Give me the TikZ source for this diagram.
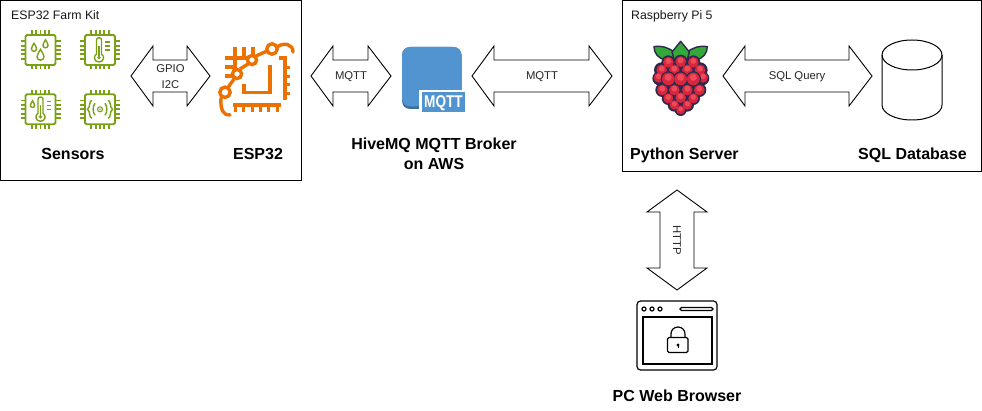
\documentclass[tikz,border=0pt]{standalone}
\usepackage{fontspec}
\setmainfont{Liberation Sans}
\usetikzlibrary{calc}
\definecolor{chipgreen}{HTML}{7AA116}
\definecolor{esporange}{HTML}{ED7100}
\definecolor{mqttblue}{HTML}{5294CF}
\definecolor{mqttdark}{HTML}{3B6E9E}
\definecolor{berrydark}{HTML}{2B2A4C}
\definecolor{berryred}{HTML}{D9263F}
\definecolor{berrylight}{HTML}{EE4A5A}
\definecolor{leafgreen}{HTML}{35A83A}
\tikzset{
  panel/.style={draw=black,line width=1pt,fill=white},
  blockarrow/.style={draw=black,line width=0.9pt,fill=white,line join=miter},
  smalltext/.style={font=\fontsize{11.3}{13}\selectfont,text=black!85,inner sep=0pt,anchor=base},
  titletext/.style={font=\fontsize{12.3}{14}\selectfont,text=black!90,inner sep=0pt,anchor=base west},
  boldtext/.style={font=\fontsize{16}{19}\selectfont\bfseries,text=black,inner sep=0pt,anchor=base},
  chipline/.style={draw=chipgreen,line width=1.9pt,line cap=butt},
  chipfine/.style={draw=chipgreen,line width=1.4pt},
  espline/.style={draw=esporange,line width=3.4pt},
  esptick/.style={draw=esporange,line width=3pt},
  iconline/.style={draw=black,line width=1.2pt},
  leaf/.style={draw=berrydark,line width=1.4pt,fill=leafgreen,line join=round},
}
\newcommand{\harrow}[2]{\draw[blockarrow] (#1) -- ($(#1)+(22,-30)$) -- ($(#1)+(22,-16)$) -- ($(#2)+(-23,-16)$) -- ($(#2)+(-23,-30)$) -- (#2) -- ($(#2)+(-23,30)$) -- ($(#2)+(-23,16)$) -- ($(#1)+(22,16)$) -- ($(#1)+(22,30)$) -- cycle;}
\newcommand{\varrow}[2]{\draw[blockarrow] (#1) -- ($(#1)+(30,22)$) -- ($(#1)+(17,22)$) -- ($(#2)+(17,-22)$) -- ($(#2)+(30,-22)$) -- (#2) -- ($(#2)+(-30,-22)$) -- ($(#2)+(-17,-22)$) -- ($(#1)+(-17,22)$) -- ($(#1)+(-30,22)$) -- cycle;}
\newcommand{\chipbody}{%
  \draw[chipline,rounded corners=1.5pt] (-15,-15) rectangle (15,15);
  \foreach \d in {-8.8,-4.4,0,4.4,8.8}{
    \draw[chipline] (\d,-19.5) -- (\d,-15);
    \draw[chipline] (\d,15) -- (\d,19.5);
    \draw[chipline] (-20,\d) -- (-15,\d);
    \draw[chipline] (15,\d) -- (20,\d);
  }}
\newcommand{\chipdrop}[3]{\draw[chipfine,shift={(#1,#2)},scale=#3] (0,-5) .. controls (1,-2.5) and (3,-1) .. (3,1.5) .. controls (3,3.5) and (1.5,4.5) .. (0,4.5) .. controls (-1.5,4.5) and (-3,3.5) .. (-3,1.5) .. controls (-3,-1) and (-1,-2.5) .. (0,-5) -- cycle;}
\newcommand{\chiptherm}[3]{% x, tick start, tick end
  \draw[chipfine] ($(#1,0)+(-2.5,4)$) -- ($(#1,0)+(-2.5,-10)$) .. controls ($(#1,0)+(-2.5,-11.5)$) and ($(#1,0)+(-1.4,-12.3)$) .. ($(#1,0)+(0,-12.3)$) .. controls ($(#1,0)+(1.4,-12.3)$) and ($(#1,0)+(2.5,-11.5)$) .. ($(#1,0)+(2.5,-10)$) -- ($(#1,0)+(2.5,4)$) .. controls ($(#1,0)+(6,6)$) and ($(#1,0)+(5,12)$) .. ($(#1,0)+(0,12)$) .. controls ($(#1,0)+(-5,12)$) and ($(#1,0)+(-6,6)$) .. ($(#1,0)+(-2.5,4)$);
  \fill[chipgreen] ($(#1,0)+(0,7.5)$) circle (1.8);
  \draw[chipfine] ($(#1,0)+(0,-4)$) -- ($(#1,0)+(0,6)$);
  \foreach \t in {-8,-4,0}{\draw[chipfine] ($(#1,0)+(#2,\t)$) -- ($(#1,0)+(#3,\t)$);}}
\newcommand{\berry}[3]{%
  \fill[berryred] (#1,#2) circle (#3);
  \fill[berrylight] (#1,#2-#3*0.25) circle (#3*0.55);}
\begin{document}
\begin{tikzpicture}[x=1pt,y=-1pt]
\useasboundingbox (0,0) rectangle (982,411);
\fill[white] (0,0) rectangle (982,411);

% panels
\draw[panel] (0.5,0.5) rectangle (301,181);
\draw[panel] (622,0.5) rectangle (981.5,172);
\node[titletext] (kit) at (11,19.5) {ESP32 Farm Kit};
\node[titletext] (pi) at (631,19.5) {Raspberry Pi 5};

% sensor chips
\begin{scope}[shift={(40.5,50)}]\chipbody
  \chipdrop{-6.5}{-2.5}{0.85}\chipdrop{5}{-6}{0.85}\chipdrop{0}{5}{1.15}\end{scope}
\begin{scope}[shift={(100,50)}]\chipbody \chiptherm{-1}{6}{11}\end{scope}
\begin{scope}[shift={(40.5,109.3)}]\chipbody \chiptherm{0}{6}{10}\chipdrop{-8}{-5}{0.7}\end{scope}
\begin{scope}[shift={(100,109.3)}]\chipbody
  \fill[chipgreen] (0,0) circle (0.9);
  \draw[chipfine,line width=1.1pt] (0,0) circle (2.5);
  \draw[chipfine] (-5,-6) .. controls (-7.5,-3) and (-7.5,3) .. (-5,6);
  \draw[chipfine] (5,-6) .. controls (7.5,-3) and (7.5,3) .. (5,6);
  \draw[chipfine] (-8,-9) .. controls (-11,-9) and (-9.5,-2) .. (-12.5,0) .. controls (-9.5,2) and (-11,9) .. (-8,9);
  \draw[chipfine] (8,-9) .. controls (11,-9) and (9.5,-2) .. (12.5,0) .. controls (9.5,2) and (11,9) .. (8,9);
\end{scope}
\node[boldtext] (sensors) at (73,160) {Sensors};

% ESP32 icon
\begin{scope}[line cap=butt]
  \draw[espline,line join=miter] (270,65) -- (270,92.3) -- (244,92.3) -- (244,84);
  \draw[espline] (279,58) -- (285,58) -- (285,100);
  \foreach \t in {68,77,85,94}{\draw[esptick] (285,\t) -- (290,\t);}
  \draw[espline] (233,105) -- (281,105);
  \foreach \t in {235,243,252,260,268,277}{\draw[esptick] (\t,105) -- (\t,112);}
  % top left comb
  \draw[espline] (225,58) -- (250,58);
  \draw[espline] (225,67) -- (236,67);
  \draw[espline] (225,76) -- (232,76);
  \draw[espline] (235,47) -- (235,70);
  \draw[espline] (244,47) -- (244,57);
  \draw[espline] (253,47) -- (253,56);
  \draw[espline] (228,87.5) -- (234,79);
  \draw[espline] (240,69) -- (248,64);
  \draw[espline] (256,56) -- (267,51);
  \draw[espline,line cap=round] (277,47) .. controls (284,42) and (293,44) .. (293,52);
  \draw[espline,line cap=round] (221,98) .. controls (220,110) and (224,116) .. (230,115);
  \draw[espline,fill=white] (225,92.3) circle (5.2);
  \draw[espline,fill=white] (237,74) circle (4.6);
  \draw[espline,fill=white] (252,60) circle (4.6);
  \draw[espline,fill=white] (272,49) circle (5.2);
\end{scope}
\node[boldtext] (esp) at (258,160) {ESP32};

% MQTT broker icon
\fill[mqttdark,rounded corners=8pt] (402,47) rectangle (461.5,109);
\fill[mqttblue,rounded corners=8pt] (402,47) rectangle (461.5,106.5);
\fill[white] (419,90) rectangle (465,112.5);
\fill[mqttblue] (422,92) rectangle (465,112.5);
\node[font=\fontsize{17}{17}\selectfont\bfseries,text=white,inner sep=0pt,xscale=0.8,anchor=base] (mqtt) at (443.5,108) {MQTT};
\node[boldtext] (hive) at (434,150) {HiveMQ MQTT Broker};
\node[boldtext] (aws) at (434,170) {on AWS};

% raspberry icon
\begin{scope}[shift={(630,30)},x=0.3333pt,y=-0.3333pt]
  \draw[leaf] (72,50) .. controls (95,46) and (115,52) .. (135,68) -- (130,85) -- (105,90) .. controls (85,85) and (72,70) .. (72,50) -- cycle;
  \draw[leaf] (232,50) .. controls (209,46) and (189,52) .. (169,68) -- (174,85) -- (199,90) .. controls (219,85) and (232,70) .. (232,50) -- cycle;
  \draw[leaf] (152,34) -- (178,66) -- (172,88) -- (132,88) -- (126,66) -- cycle;
  \fill[berrydark] (115,97) circle (21) (152,95) circle (21) (190,97) circle (21)
    (95,120) circle (23) (133,120) circle (21) (172,120) circle (21) (210,120) circle (23)
    (88,145) circle (21) (115,147) circle (24) (152,147) circle (24) (190,147) circle (24) (217,145) circle (21)
    (97,180) circle (21) (133,180) circle (21) (172,180) circle (21) (208,180) circle (21)
    (115,205) circle (20) (152,203) circle (21) (190,205) circle (20)
    (133,225) circle (20) (172,225) circle (20) (152,240) circle (18);
  \berry{115}{97}{16}\berry{152}{95}{16}\berry{190}{97}{16}
  \berry{95}{120}{16}\berry{133}{120}{16}\berry{172}{120}{16}\berry{210}{120}{16}
  \berry{97}{180}{16}\berry{133}{180}{16}\berry{172}{180}{16}\berry{208}{180}{16}
  \berry{115}{205}{15}\berry{152}{203}{16}\berry{190}{205}{15}
  \berry{133}{225}{14}\berry{172}{225}{14}\berry{152}{240}{13}
  \berry{86}{143}{15}\berry{219}{143}{15}
  \fill[berrydark] (115,147) circle (23) (152,147) circle (23) (190,147) circle (23);
  \berry{115}{147}{19}\berry{152}{147}{19}\berry{190}{147}{19}
\end{scope}
\node[boldtext,anchor=base west] (py) at (630,160) {Python Server};

% database
\draw[line width=1pt,fill=white] (882,55) -- (882,105) .. controls (882,113.3) and (895.4,120) .. (912,120) .. controls (928.6,120) and (942,113.3) .. (942,105) -- (942,55);
\draw[line width=1pt] (912,55) ellipse (30 and 15);
\node[boldtext,anchor=base west] (sqldb) at (858,160) {SQL Database};

% browser icon
\draw[iconline,rounded corners=3.5pt] (637,301) rectangle (717,370);
\draw[iconline] (643,317) rectangle (712,364);
\foreach \c in {644,652,660}{\draw[iconline] (\c,309) circle (2);}
\draw[iconline,rounded corners=1.5pt] (680,307.5) rectangle (713,310.5);
\draw[iconline,rounded corners=1.5pt] (667.5,337.5) rectangle (688,352.5);
\draw[iconline] (671,337.5) -- (671,334) .. controls (671,330) and (674,327) .. (678,327) .. controls (682,327) and (685,330) .. (685,334) -- (685,337.5);
\fill[black] (678,345) circle (1.6);
\draw[iconline,line width=0.8pt] (678,345) -- (678,348);
\node[boldtext] (web) at (677,401) {PC Web Browser};

% block arrows
\coordinate (gpioL) at (131,76);
\coordinate (gpioR) at (210,76);
\coordinate (mqttaL) at (311,76);
\coordinate (mqttaR) at (391,76);
\coordinate (mqttbL) at (472,76);
\coordinate (mqttbR) at (612,76);
\coordinate (sqlL) at (723,76);
\coordinate (sqlR) at (872,76);
\coordinate (httpT) at (677,190);
\coordinate (httpB) at (677,290);
\harrow{gpioL}{gpioR}
\harrow{mqttaL}{mqttaR}
\harrow{mqttbL}{mqttbR}
\harrow{sqlL}{sqlR}
\varrow{httpT}{httpB}
\node[smalltext] (gpio) at (170.5,72.5) {GPIO};
\node[smalltext] (itwoc) at (170.5,88.5) {I2C};
\node[smalltext] (mqtta) at (351,80) {MQTT};
\node[smalltext] (mqttb) at (542,80) {MQTT};
\node[smalltext] (sql) at (797,80) {SQL Query};
\node[smalltext,anchor=center,rotate=-90] (http) at (677,240) {HTTP};
\end{tikzpicture}
\end{document}
